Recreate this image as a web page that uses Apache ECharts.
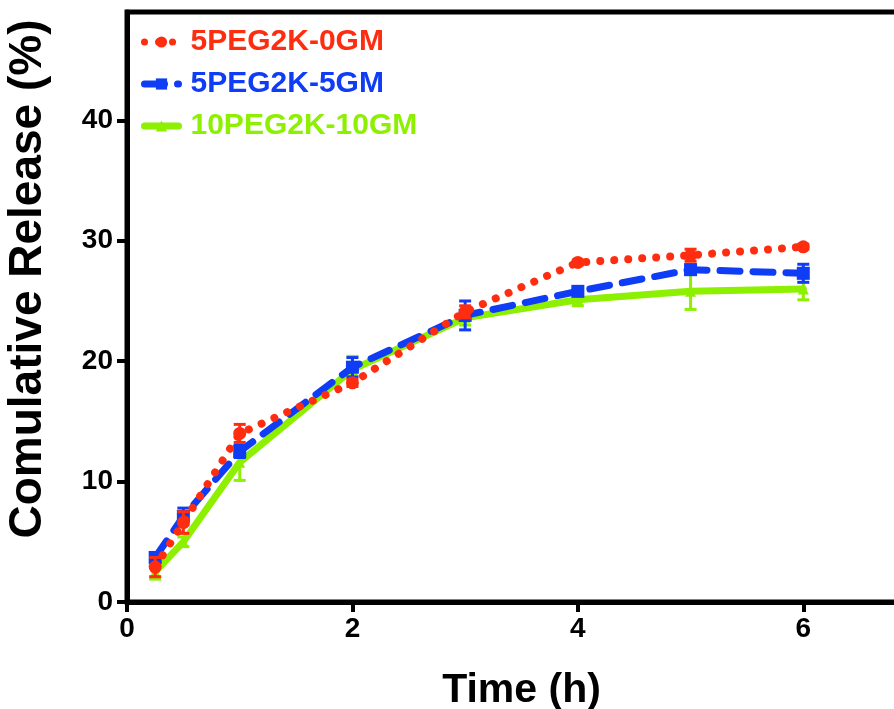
<!DOCTYPE html>
<html>
<head>
<meta charset="utf-8">
<script src="https://cdn.jsdelivr.net/npm/echarts@6/dist/echarts.min.js"></script>
<style>html,body{margin:0;padding:0;background:#fff}#c{width:894px;height:709px}</style>
</head>
<body>
<div id="c"></div>
<script>
const times = [0.25, 0.5, 1, 2, 3, 4, 5, 6];
const names = ['5PEG2K-0GM', '5PEG2K-5GM', '10PEG2K-10GM'];
const red = [2.9, 6.6, 14.0, 18.2, 24.1, 28.2, 28.8, 29.5];
const redErr = [0.8, 0.9, 0.75, 0.3, 0.5, 0.2, 0.5, 0.2];
const blue = [3.7, 7.1, 12.5, 19.5, 23.8, 25.8, 27.6, 27.3];
const blueErr = [0.4, 0.7, 0.5, 0.8, 1.2, 0.3, 0.4, 0.75];
const green = [2.5, 5.0, 11.6, 19.3, 23.6, 25.1, 25.8, 26.0];
const greenErr = [0.6, 0.4, 1.5, 1.1, 0.6, 0.5, 1.5, 0.9];
const xTicks = [0, 2, 4, 6];
const yTicks = [0, 10, 20, 30, 40];

const colors = ['#ff2d10', '#0f3cf5', '#8cf000'];
const FONT = '"Liberation Sans", Arial, sans-serif';

function pairs(v) { return times.map((t, i) => [t, v[i]]); }
function errData(v, e) { return times.map((t, i) => [t, v[i] - e[i], v[i] + e[i]]); }
function errSeries(v, e, color, z) {
  return {
    type: 'custom', silent: true, z: z,
    data: errData(v, e),
    renderItem: function (params, api) {
      const x = api.value(0);
      const lo = api.coord([x, api.value(1)]);
      const hi = api.coord([x, api.value(2)]);
      const w = 6;
      const st = { stroke: color, lineWidth: 3 };
      return {
        type: 'group', children: [
          { type: 'line', shape: { x1: lo[0], y1: lo[1], x2: hi[0], y2: hi[1] }, style: st },
          { type: 'line', shape: { x1: lo[0] - w, y1: lo[1], x2: lo[0] + w, y2: lo[1] }, style: st },
          { type: 'line', shape: { x1: hi[0] - w, y1: hi[1], x2: hi[0] + w, y2: hi[1] }, style: st }
        ]
      };
    }
  };
}

const lineTypes = [[0.01, 14], [20, 13], 'solid'];
const chart = echarts.init(document.getElementById('c'));
chart.setOption({
  animation: false,
  backgroundColor: '#fff',
  grid: { left: 127, right: -22, top: 12, bottom: 107, show: true, borderColor: '#000', borderWidth: 5,
          containLabel: false, outerBoundsMode: 'none' },
  legend: {
    orient: 'vertical', left: 136, top: 22, itemGap: 12, itemWidth: 34, itemHeight: 14,
    data: names.map((n, i) => ({ name: n, textStyle: { color: colors[i] },
      lineStyle: { width: 7, type: lineTypes[i], cap: 'round', color: colors[i] } })),
    textStyle: { fontFamily: FONT, fontWeight: 'bold', fontSize: 30, padding: [0, 0, 0, 7] }
  },
  xAxis: {
    type: 'value', min: 0, max: 7, interval: 2,
    name: 'Time (h)', nameLocation: 'middle', nameGap: 68,
    nameTextStyle: { fontFamily: FONT, fontWeight: 'bold', fontSize: 41, color: '#000' },
    axisLine: { show: true, lineStyle: { color: '#000', width: 5 } },
    axisTick: { show: true, length: 10, lineStyle: { color: '#000', width: 4 }, customValues: xTicks },
    axisLabel: { margin: 13, fontFamily: FONT, fontWeight: 'bold', fontSize: 28, color: '#000', customValues: xTicks },
    splitLine: { show: false }
  },
  yAxis: {
    type: 'value', min: 0, max: 49, interval: 10,
    name: 'Comulative Release (%)', nameLocation: 'middle', nameGap: 76,
    nameTextStyle: { fontFamily: FONT, fontWeight: 'bold', fontSize: 46, color: '#000', padding: [0, 0, 0, 56] },
    axisLine: { show: true, lineStyle: { color: '#000', width: 5 } },
    axisTick: { show: true, length: 10, lineStyle: { color: '#000', width: 4 }, customValues: yTicks },
    axisLabel: { margin: 14, fontFamily: FONT, fontWeight: 'bold', fontSize: 28, color: '#000', customValues: yTicks },
    splitLine: { show: false }
  },
  series: [
    errSeries(green, greenErr, colors[2], 2),
    {
      name: names[2], type: 'line', data: pairs(green), z: 3,
      symbol: 'triangle', symbolSize: 11, itemStyle: { color: colors[2] },
      lineStyle: { color: colors[2], width: 7, cap: 'round' }
    },
    errSeries(blue, blueErr, colors[1], 4),
    {
      name: names[1], type: 'line', data: pairs(blue), z: 5,
      symbol: 'rect', symbolSize: 13, itemStyle: { color: colors[1] },
      lineStyle: { color: colors[1], width: 7, type: lineTypes[1], cap: 'round' }
    },
    errSeries(red, redErr, colors[0], 6),
    {
      name: names[0], type: 'line', data: pairs(red), z: 7,
      symbol: 'circle', symbolSize: 13, itemStyle: { color: colors[0] },
      lineStyle: { color: colors[0], width: 8, type: lineTypes[0], cap: 'round' }
    }
  ]
});
</script>
</body>
</html>
